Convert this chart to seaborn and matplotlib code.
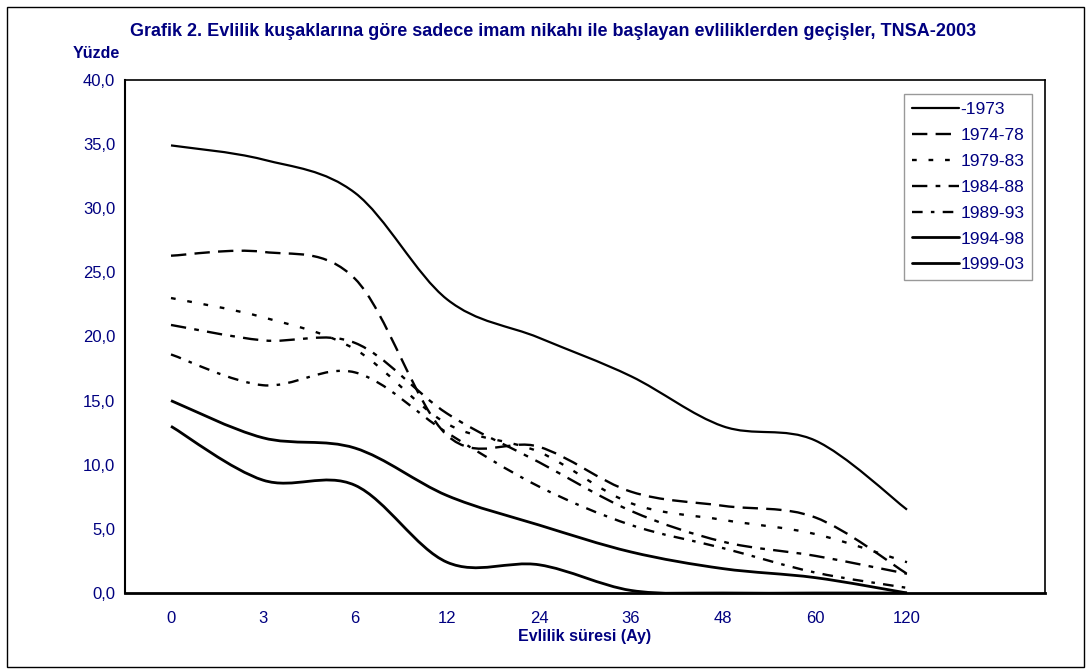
import numpy as np
import pandas as pd
import matplotlib
matplotlib.use("Agg")
import matplotlib.pyplot as plt
import seaborn as sns
from matplotlib.path import Path
from matplotlib.patches import PathPatch, Rectangle
from matplotlib.ticker import FixedLocator, FuncFormatter

# data (percent)
months = ["0", "3", "6", "12", "24", "36", "48", "60", "120"]
cohorts = ["-1973", "1974-78", "1979-83", "1984-88", "1989-93", "1994-98", "1999-03"]
c_1973 = [34.9, 33.8, 31.2, 22.9, 19.9, 16.9, 13.0, 11.9, 6.5]
c_7478 = [26.3, 26.6, 24.5, 12.3, 11.4, 7.9, 6.8, 5.9, 1.5]
c_7983 = [23.0, 21.5, 19.0, 13.2, 11.0, 7.0, 5.7, 4.6, 2.4]
c_8488 = [20.9, 19.7, 19.5, 14.0, 10.2, 6.4, 4.0, 2.9, 1.5]
c_8993 = [18.6, 16.2, 17.2, 12.5, 8.3, 5.3, 3.5, 1.6, 0.4]
c_9498 = [15.0, 12.1, 11.3, 7.6, 5.3, 3.2, 1.9, 1.2, 0.0]
c_9903 = [13.0, 8.8, 8.4, 2.4, 2.2, 0.2, 0.0, 0.0, 0.0]
series = [c_1973, c_7478, c_7983, c_8488, c_8993, c_9498, c_9903]

NAVY = "#000080"

sns.set_style("white")
plt.rcParams["font.family"] = ["Liberation Sans", "DejaVu Sans"]

rows = []
for name, vals in zip(cohorts, series):
    for i, v in enumerate(vals):
        rows.append({"pos": i, "val": v, "cohort": name})
df = pd.DataFrame(rows)

dash_map = {
    "-1973": "",
    "1974-78": (6.5, 3.5),
    "1979-83": (2, 5),
    "1984-88": (6.5, 3.5, 2, 3.5),
    "1989-93": (4.5, 3.5, 1.5, 3.5),
    "1994-98": "",
    "1999-03": "",
}
lw_map = {"-1973": 1.6, "1974-78": 1.7, "1979-83": 1.7, "1984-88": 1.7,
          "1989-93": 1.7, "1994-98": 2.0, "1999-03": 2.0}

fig = plt.figure(figsize=(10.92, 6.70), dpi=100)
ax = fig.add_axes([125 / 1092, 77 / 670, 920 / 1092, 513 / 670])

sns.lineplot(data=df, x="pos", y="val", hue="cohort", style="cohort",
             size="cohort", hue_order=cohorts, style_order=cohorts,
             size_order=cohorts, palette=["black"] * 7, dashes=dash_map,
             sizes=lw_map, ax=ax, legend="full")


# Excel-like smoothed rendering (Catmull-Rom bezier through the data points)
def smooth_path(x, y):
    verts = [(x[0], y[0])]
    codes = [Path.MOVETO]
    n = len(x)
    for i in range(n - 1):
        xp, yp = (x[i - 1], y[i - 1]) if i > 0 else (x[i], y[i])
        xn, yn = (x[i + 2], y[i + 2]) if i + 2 < n else (x[i + 1], y[i + 1])
        c1 = (x[i] + (x[i + 1] - xp) / 6, y[i] + (y[i + 1] - yp) / 6)
        c2 = (x[i + 1] - (xn - x[i]) / 6, y[i + 1] - (yn - y[i]) / 6)
        verts += [c1, c2, (x[i + 1], y[i + 1])]
        codes += [Path.CURVE4] * 3
    return Path(verts, codes)


data_lines = [l for l in ax.lines if len(l.get_xdata()) > 0]
for line, name in zip(data_lines, cohorts):
    x = np.asarray(line.get_xdata(), float)
    y = np.asarray(line.get_ydata(), float)
    d = dash_map[name]
    ls = "-" if d == "" else (0, d)
    patch = PathPatch(smooth_path(x, y), fill=False, edgecolor="black",
                      lw=lw_map[name], linestyle=ls, joinstyle="round",
                      capstyle="butt")
    ax.add_patch(patch)
    line.set_visible(False)

ax.set_xlim(-0.5, 9.5)
ax.set_ylim(0, 40)
ax.xaxis.set_major_locator(FixedLocator(range(len(months))))
ax.set_xticklabels(months)
ax.xaxis.set_minor_locator(FixedLocator(np.arange(-0.5, 10, 1)))
ax.tick_params(axis="x", which="major", length=0, pad=13, labelsize=12, labelcolor=NAVY)
ax.tick_params(axis="x", which="minor", direction="inout", length=9, width=1, color="black")
ax.set_yticks(np.arange(0, 41, 5))
ax.yaxis.set_major_formatter(FuncFormatter(lambda v, p: f"{v:.1f}".replace(".", ",")))
ax.tick_params(axis="y", direction="out", length=5, width=1, color="black",
               labelsize=12, labelcolor=NAVY, pad=2)

for s in ax.spines.values():
    s.set_visible(True)
    s.set_color("black")
    s.set_linewidth(1.2)
ax.spines["bottom"].set_linewidth(2.0)
ax.spines["left"].set_linewidth(1.5)

ax.set_xlabel("Evlilik süresi (Ay)", fontsize=11.5, fontweight="bold", color=NAVY, labelpad=2)
ax.set_ylabel("")

fig.text(553 / 1092, 1 - 31 / 670, "Grafik 2. Evlilik kuşaklarına göre sadece imam nikahı ile başlayan evliliklerden geçişler, TNSA-2003",
         ha="center", va="center", fontsize=13, fontweight="bold", color=NAVY)
fig.text(73 / 1092, 1 - 53 / 670, "Yüzde", ha="left", va="center",
         fontsize=11.5, fontweight="bold", color=NAVY)

leg = ax.legend(loc="upper left", bbox_to_anchor=(904 / 1092, 1 - 94 / 670),
                bbox_transform=fig.transFigure, borderaxespad=0, frameon=True,
                fancybox=False, fontsize=12.5, labelspacing=0.62, handlelength=2.7,
                handletextpad=0.1, borderpad=0.45)
leg.get_frame().set_edgecolor("#808080")
leg.get_frame().set_linewidth(1.0)
for t in leg.get_texts():
    t.set_color(NAVY)
for h in leg.get_lines():
    h.set_color("black")

fig.patches.append(Rectangle((7 / 1092, 3 / 670), 1077 / 1092, 660 / 670,
                             transform=fig.transFigure, fill=False,
                             edgecolor="black", lw=1.0))

fig.savefig("out.png", dpi=100)
